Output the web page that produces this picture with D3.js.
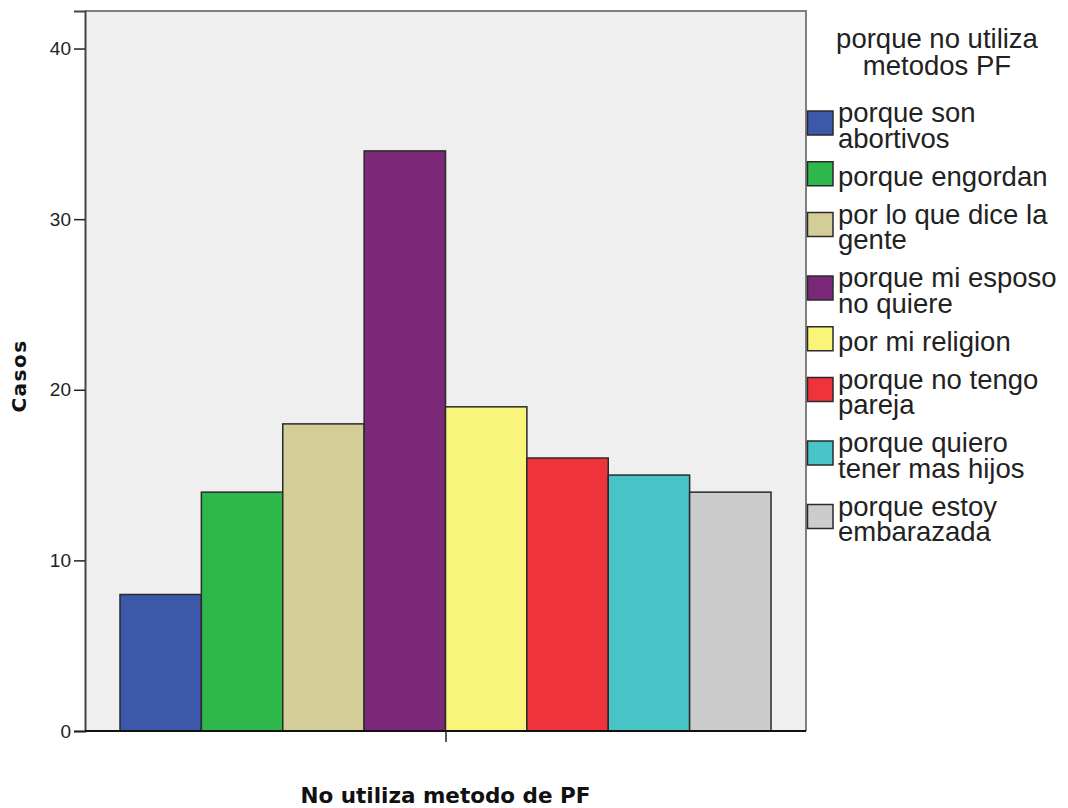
<!DOCTYPE html>
<html>
<head>
<meta charset="utf-8">
<script src="https://cdn.jsdelivr.net/npm/d3@7"></script>
<style>
  html, body { margin: 0; padding: 0; background: #ffffff; }
  svg { display: block; }
</style>
</head>
<body>
<svg id="chart" width="1068" height="808"></svg>
<script>
// Reasons for not using family planning methods (PF) — case counts
const categories = [
  "porque son abortivos",
  "porque engordan",
  "por lo que dice la gente",
  "porque mi esposo no quiere",
  "por mi religion",
  "porque no tengo pareja",
  "porque quiero tener mas hijos",
  "porque estoy embarazada"
];
// Wrapped legend text for each category
const legendLines = [
  ["porque son", "abortivos"],
  ["porque engordan"],
  ["por lo que dice la", "gente"],
  ["porque mi esposo", "no quiere"],
  ["por mi religion"],
  ["porque no tengo", "pareja"],
  ["porque quiero", "tener mas hijos"],
  ["porque estoy", "embarazada"]
];
const casos = [8, 14, 18, 34, 19, 16, 15, 14];
const colors = ["#3d58a9", "#2eb84b", "#d3ce97", "#7b2879", "#f9f57b", "#ef333b", "#48c3c6", "#cccccc"];
const yTicks = [0, 10, 20, 30, 40];
const groupLabel = "No utiliza metodo de PF";
const yTitle = "Casos";
const legendTitle = ["porque no utiliza", "metodos PF"];

const svg = d3.select("#chart");

const plot = { left: 85, top: 11, right: 806, bottom: 731 };
const barInset = 35;

const y = d3.scaleLinear().domain([0, 42.2]).range([plot.bottom, plot.top]);
const x = d3.scaleBand()
  .domain(categories)
  .range([plot.left + barInset, plot.right - barInset])
  .paddingInner(0).paddingOuter(0);

// Plot background
svg.append("rect")
  .attr("x", plot.left).attr("y", plot.top)
  .attr("width", plot.right - plot.left).attr("height", plot.bottom - plot.top)
  .attr("fill", "#efefef");

// Frame: top and right edges
svg.append("path")
  .attr("d", `M${plot.left},${plot.top}H${plot.right}V${plot.bottom}`)
  .attr("fill", "none").attr("stroke", "#7f7f7f").attr("stroke-width", 2);

// Bars
svg.append("g").selectAll("rect")
  .data(categories)
  .join("rect")
  .attr("x", d => x(d))
  .attr("y", (d, i) => y(casos[i]))
  .attr("width", x.bandwidth())
  .attr("height", (d, i) => y(0) - y(casos[i]))
  .attr("fill", (d, i) => colors[i])
  .attr("stroke", "#2a2a2a")
  .attr("stroke-width", 1.5);

// Y axis
const yAxis = d3.axisLeft(y).tickValues(yTicks).tickSize(11).tickPadding(3).tickFormat(d3.format("d"));
const gy = svg.append("g").attr("transform", `translate(${plot.left},0)`).call(yAxis);
gy.select(".domain").attr("stroke", "#444").attr("stroke-width", 2);
gy.selectAll(".tick line").attr("stroke", "#222").attr("stroke-width", 1.5);
gy.selectAll(".tick text")
  .attr("font-family", "'Liberation Sans', Arial, sans-serif")
  .attr("font-size", 19).attr("fill", "#222");

// X axis with a single group tick at the middle of the bars
const xGroup = d3.scalePoint().domain([groupLabel]).range([x.range()[0], x.range()[1]]).padding(0.5);
const xAxis = d3.axisBottom(xGroup).tickSize(11).tickFormat("");
const gx = svg.append("g").attr("transform", `translate(0,${plot.bottom})`).call(xAxis);
gx.select(".domain").attr("d", `M${plot.left},0H${plot.right}`).attr("stroke", "#111").attr("stroke-width", 2);
gx.selectAll(".tick line").attr("stroke", "#222").attr("stroke-width", 1.5);

// Axis titles
svg.append("text")
  .attr("x", xGroup(groupLabel)).attr("y", 803)
  .attr("text-anchor", "middle")
  .attr("font-family", "'DejaVu Sans', Verdana, sans-serif")
  .attr("font-weight", "bold").attr("font-size", 21.5).attr("fill", "#111")
  .text(groupLabel);

svg.append("text")
  .attr("transform", `translate(26,${(plot.top + plot.bottom) / 2 + 5}) rotate(-90)`)
  .attr("text-anchor", "middle")
  .attr("font-family", "'DejaVu Sans', Verdana, sans-serif")
  .attr("font-weight", "bold").attr("font-size", 20).attr("letter-spacing", 1.5).attr("fill", "#111")
  .text(yTitle);

// Legend
const legendFont = "'Liberation Sans', Arial, sans-serif";
const legendSize = 27.5;
const lineH = 25.5;
const itemGap = 12.5;

const lg = svg.append("g");
lg.append("text")
  .attr("x", 937).attr("y", 48)
  .attr("text-anchor", "middle")
  .attr("font-family", legendFont).attr("font-size", legendSize).attr("fill", "#222")
  .selectAll("tspan").data(legendTitle).join("tspan")
  .attr("x", 937).attr("dy", (d, i) => i === 0 ? 0 : 26.5)
  .text(d => d);

let itemTop = 97.5;
legendLines.forEach((lines, i) => {
  const blockH = lines.length * lineH;
  const item = lg.append("g");
  item.append("rect")
    .attr("x", 807.5).attr("y", itemTop + blockH / 2 - 12)
    .attr("width", 25.5).attr("height", 24)
    .attr("fill", colors[i]).attr("stroke", "#2a2a2a").attr("stroke-width", 1.5);
  item.append("text")
    .attr("font-family", legendFont).attr("font-size", legendSize).attr("fill", "#222")
    .selectAll("tspan").data(lines).join("tspan")
    .attr("x", 838).attr("y", (d, j) => itemTop + 24.5 + j * lineH)
    .text(d => d);
  itemTop += blockH + itemGap;
});
</script>
</body>
</html>
